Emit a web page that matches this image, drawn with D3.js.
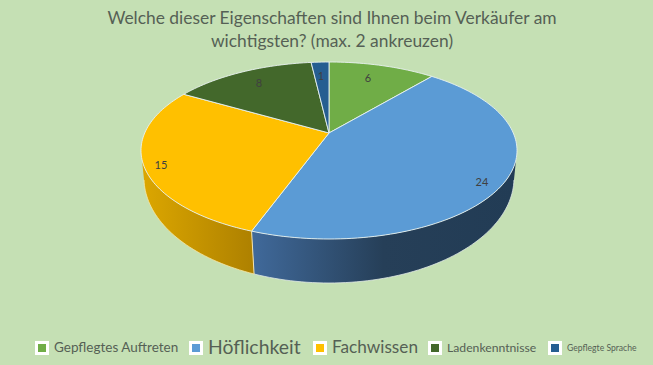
<!DOCTYPE html>
<html>
<head>
<meta charset="utf-8">
<script src="https://cdn.jsdelivr.net/npm/d3@7"></script>
<style>
  html, body { margin: 0; padding: 0; background: #c5e0b4; }
  text { font-family: Lato, "Open Sans", sans-serif; }
</style>
</head>
<body>
<div id="chart"></div>
<script>
const categories = ["Gepflegtes Auftreten", "Höflichkeit", "Fachwissen", "Ladenkenntnisse", "Gepflegte Sprache"];
const values = [6, 24, 15, 8, 1];
const colors = ["#70ad47", "#5b9bd5", "#ffc000", "#43682b", "#255e91"];
const titleLines = ["Welche dieser Eigenschaften sind Ihnen beim Verkäufer am", "wichtigsten? (max. 2 ankreuzen)"];

const width = 653, height = 365;
const svg = d3.select("#chart").append("svg")
    .attr("width", width)
    .attr("height", height)
    .style("display", "block");

const color = d3.scaleOrdinal().domain(categories).range(colors);

// layout, set by hand to line up with the reference
const legendSizes = [13.5, 19.4, 17.2, 12.2, 8.6];
const legendX = [35, 189, 313, 428, 548];
const labelPos = [[368, 78], [482, 182], [161, 165], [259, 83], [321, 76]];

// top face and bottom edge of the tilted disc, k moves the pie centre up (perspective)
const top_ = {cx: 329, cy: 150.5, rx: 188, ry: 88.5, k: -0.198};
const bottom = {cx: 329, cy: 178, rx: 185, ry: 105, k: -0.18};

function project(e, a, r) {
    const ux = Math.sin(a) * r, uy = -Math.cos(a) * r;
    const d = 1 + e.k * uy;
    return [e.cx + e.rx * ux * Math.sqrt(1 - e.k * e.k) / d, e.cy + e.ry * (uy + e.k) / d];
}

const pie = d3.pie().sort(null).value(d => d);
const arcs = pie(values);
const line = d3.line();

function arcPoints(e, a0, a1) {
    const n = Math.max(2, Math.ceil(Math.abs(a1 - a0) * 40));
    return d3.range(n + 1).map(i => project(e, a0 + (a1 - a0) * i / n, 1));
}

const defs = svg.append("defs");

function gradient(id, x1, x2, stops) {
    const g = defs.append("linearGradient")
        .attr("id", id)
        .attr("gradientUnits", "userSpaceOnUse")
        .attr("x1", x1).attr("x2", x2)
        .attr("y1", 0).attr("y2", 0);
    stops.forEach(s => g.append("stop").attr("offset", s[0]).attr("stop-color", s[1]));
}
gradient("sideBlue", 253, 514, [[0, "#40699a"], [0.5, "#263f58"], [1, "#223c55"]]);
gradient("sideYellow", 144, 255, [[0, "#dba600"], [1, "#ad8000"]]);

// side wall, from the right silhouette point round to the left one
const edge = Math.acos(top_.k);
const seam = arcs[1].endAngle;
const sideAngles = [
    [edge, seam, "url(#sideBlue)", "#dfe9e6"],
    [seam, 2 * Math.PI - edge, "url(#sideYellow)", "#f6e7a6"]
];
svg.selectAll(".side")
    .data(sideAngles)
    .enter()
    .append("path")
    .attr("class", "side")
    .attr("d", d => line(arcPoints(top_, d[0], d[1]).concat(arcPoints(bottom, d[1], d[0]))) + "Z")
    .attr("fill", d => d[2]);

// thin pale rim under the wall
svg.selectAll(".rim")
    .data(sideAngles)
    .enter()
    .append("path")
    .attr("class", "rim")
    .attr("d", d => line(arcPoints(bottom, d[0], d[1])))
    .attr("fill", "none")
    .attr("stroke", d => d[3])
    .attr("stroke-width", 0.8);

svg.append("path")
    .attr("d", line([project(top_, seam, 1), project(bottom, seam, 1)]))
    .attr("stroke", "#f4e3b0")
    .attr("stroke-width", 1)
    .attr("fill", "none");

// top face
svg.selectAll(".slice")
    .data(arcs)
    .enter()
    .append("path")
    .attr("class", "slice")
    .attr("d", d => line([project(top_, 0, 0)].concat(arcPoints(top_, d.startAngle, d.endAngle))) + "Z")
    .attr("fill", (d, i) => color(categories[i]))
    .attr("stroke", "#e9f2f0")
    .attr("stroke-width", 0.9)
    .attr("stroke-linejoin", "round");

// data labels
svg.selectAll(".label")
    .data(values)
    .enter()
    .append("text")
    .attr("class", "label")
    .attr("x", (d, i) => labelPos[i][0])
    .attr("y", (d, i) => labelPos[i][1])
    .attr("dy", "0.35em")
    .attr("text-anchor", "middle")
    .attr("font-size", 11)
    .attr("fill", "#404040")
    .text(d => d);

// title
svg.selectAll(".title")
    .data(titleLines)
    .enter()
    .append("text")
    .attr("class", "title")
    .attr("x", 332)
    .attr("y", (d, i) => 24 + i * 23)
    .attr("text-anchor", "middle")
    .attr("font-size", 17.4)
    .attr("fill", "#556055")
    .text(d => d);

// legend
const legend = svg.selectAll(".legend")
    .data(categories)
    .enter()
    .append("g")
    .attr("class", "legend")
    .attr("transform", (d, i) => "translate(" + legendX[i] + ",348)");

legend.append("rect")
    .attr("x", 1.5).attr("y", -5.5)
    .attr("width", 11).attr("height", 11)
    .attr("fill", d => color(d))
    .attr("stroke", "#ffffff")
    .attr("stroke-width", 3);

legend.append("text")
    .attr("x", 19)
    .attr("dy", "0.3em")
    .attr("font-size", (d, i) => legendSizes[i])
    .attr("fill", "#556055")
    .text(d => d);
</script>
</body>
</html>
